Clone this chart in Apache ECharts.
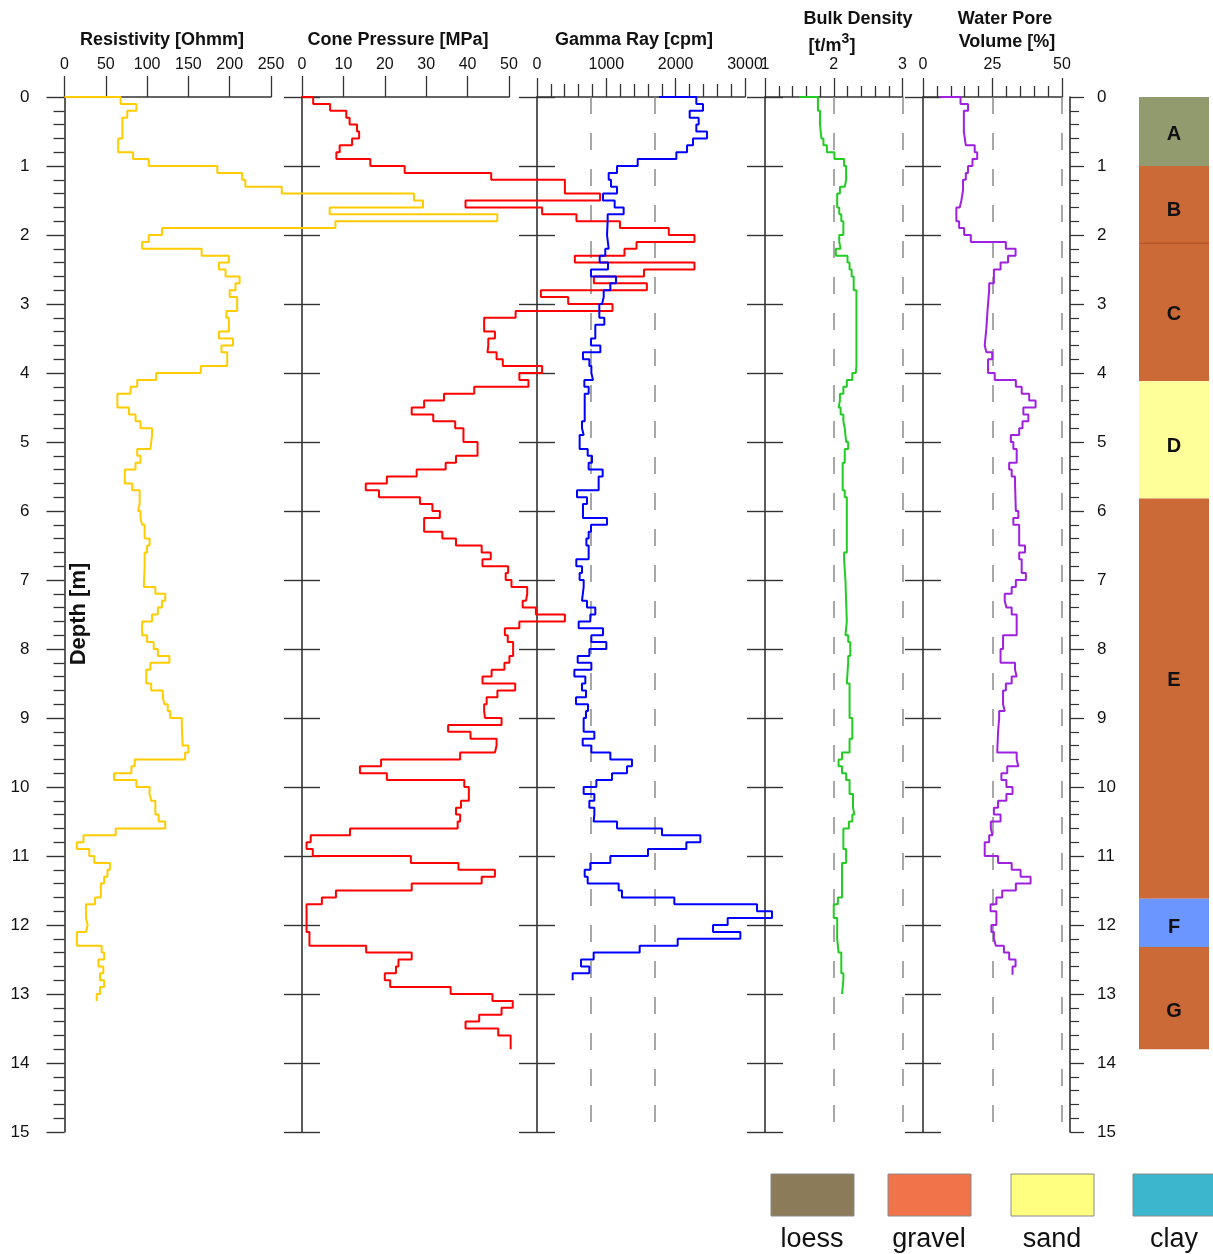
<!DOCTYPE html>
<html><head><meta charset="utf-8">
<script src="https://cdn.jsdelivr.net/npm/echarts/dist/echarts.min.js"></script>
<style>html,body{margin:0;padding:0;background:#fff}#c{width:1213px;height:1254px}</style>
</head><body><div id="c"></div><script>
// ---------- DATA ----------
// each curve: [segment top depth (m), value]; segment ends at next top (last ends at *End)
const resistivity = [[0,0],[0,68],[0.1,87],[0.2,76],[0.3,70],[0.6,65],[0.8,83],[0.9,102],[1.0,185],[1.1,215],[1.2,219],[1.3,263],[1.4,423],[1.5,434],[1.6,321],[1.7,524],[1.8,328],[1.9,118],[2.0,102],[2.1,94],[2.2,166],[2.3,199],[2.4,187],[2.5,195],[2.6,212],[2.7,207],[2.8,200],[2.9,209],[3.1,196],[3.2,199],[3.4,187],[3.5,204],[3.6,190],[3.7,197],[3.9,165],[4.0,111],[4.1,88],[4.2,80],[4.3,64],[4.5,78],[4.6,86],[4.7,92],[4.8,106],[4.9,104],[5.1,88],[5.2,92],[5.3,86],[5.4,73],[5.6,82],[5.7,91],[5.9,89],[6.0,92],[6.1,94],[6.2,97],[6.4,103],[6.5,100],[6.6,97],[6.8,96],[7.1,110],[7.2,122],[7.3,118],[7.4,113],[7.5,106],[7.6,94],[7.8,100],[7.9,108],[8.0,113],[8.1,127],[8.2,104],[8.3,99],[8.5,105],[8.6,119],[8.7,121],[8.8,125],[8.9,128],[9.0,142],[9.1,143],[9.4,150],[9.5,146],[9.6,85],[9.7,81],[9.8,60],[9.9,87],[10.0,103],[10.1,105],[10.2,110],[10.4,114],[10.5,122],[10.6,62],[10.7,23],[10.8,15],[10.9,30],[11.0,36],[11.1,55],[11.2,52],[11.3,48],[11.4,44],[11.6,37],[11.7,26],[11.9,28],[12.0,26],[12.1,15],[12.3,45],[12.4,48],[12.5,41],[12.6,47],[12.7,43],[12.8,48],[12.9,43],[13.0,39]];
const resistivityEnd = 13.1;

const conePressure = [[0,0],[0,2.7],[0.1,6.8],[0.2,10.7],[0.3,11.5],[0.4,13.3],[0.5,13.8],[0.6,12.1],[0.7,9.1],[0.8,8.3],[0.9,16.5],[1.0,24.8],[1.1,45.7],[1.2,63.5],[1.4,72],[1.5,39.5],[1.6,58],[1.7,66.3],[1.8,76.8],[1.9,88.6],[2.0,94.8],[2.1,80.8],[2.2,77.9],[2.3,65.9],[2.4,94.8],[2.5,82.6],[2.6,70.5],[2.7,83.3],[2.8,57.7],[2.9,64.3],[3.0,75],[3.1,51.6],[3.2,44],[3.4,46.6],[3.5,45],[3.6,44.8],[3.7,47],[3.8,48.5],[3.9,58],[4.0,52.5],[4.1,54.7],[4.2,41.6],[4.3,34.3],[4.4,29.5],[4.5,26.5],[4.6,31.7],[4.7,37],[4.8,39],[5.0,42.4],[5.2,37.2],[5.3,34.7],[5.4,27.7],[5.5,20.5],[5.6,15.4],[5.7,18.6],[5.8,28.5],[5.9,31.5],[6.0,33.3],[6.1,29.5],[6.3,33.9],[6.4,37.2],[6.5,43.4],[6.6,45.6],[6.7,43.6],[6.8,49.8],[6.9,49.2],[7.0,50.6],[7.1,54.4],[7.2,54.1],[7.3,53.3],[7.4,56.5],[7.5,63.5],[7.6,52.5],[7.7,49.0],[7.8,49.7],[7.9,51],[8.1,50.1],[8.2,48.9],[8.3,45.8],[8.4,43.6],[8.5,51.5],[8.6,47.2],[8.7,44.6],[8.8,44],[8.9,44.2],[9.0,48.2],[9.1,35.3],[9.2,40.7],[9.3,47],[9.4,46.6],[9.5,38.2],[9.6,19.1],[9.7,14],[9.8,20.5],[9.9,39.2],[10.0,40.3],[10.2,38.4],[10.3,37.2],[10.4,38.2],[10.5,37.6],[10.6,11.6],[10.7,2.1],[10.8,1.1],[10.9,2.6],[11.0,26.3],[11.1,37.8],[11.2,46.6],[11.3,43.4],[11.4,26.5],[11.5,8.2],[11.6,4.8],[11.7,1.1],[12.1,1.8],[12.3,15.5],[12.4,26.5],[12.5,23.3],[12.6,22.7],[12.7,20],[12.8,21.3],[12.9,35.9],[13.0,46],[13.1,50.9],[13.2,48.2],[13.3,42.8],[13.4,39.5],[13.5,47.4],[13.6,50.4]];
const conePressureEnd = 13.8;

const gammaRay = [[0,1760],[0,2298],[0.1,2394],[0.2,2202],[0.3,2332],[0.4,2298],[0.5,2452],[0.6,2250],[0.7,2164],[0.8,2010],[0.9,1452],[1.0,1154],[1.1,1034],[1.2,1067],[1.3,1154],[1.4,952],[1.5,1120],[1.6,1250],[1.7,1019],[1.8,1010],[2.0,1034],[2.2,985],[2.3,904],[2.4,1024],[2.5,779],[2.6,1139],[2.7,1058],[2.8,962],[2.9,938],[3.0,899],[3.2,971],[3.3,841],[3.5,779],[3.6,914],[3.7,663],[3.8,755],[3.9,784],[4.0,808],[4.1,683],[4.2,745],[4.3,688],[4.7,649],[4.8,673],[4.9,615],[5.1,731],[5.2,793],[5.3,745],[5.4,947],[5.5,889],[5.7,577],[5.8,721],[5.9,663],[6.1,1010],[6.2,779],[6.3,745],[6.4,712],[6.5,745],[6.7,567],[6.8,649],[6.9,615],[7.0,673],[7.1,649],[7.3,721],[7.4,841],[7.5,769],[7.6,601],[7.7,952],[7.8,784],[7.9,1000],[8.0,755],[8.1,587],[8.2,784],[8.3,539],[8.4,697],[8.5,649],[8.6,707],[8.7,563],[8.8,736],[8.9,707],[9.0,673],[9.2,827],[9.3,659],[9.4,784],[9.5,1058],[9.6,1370],[9.7,1298],[9.8,1082],[9.9,856],[10.0,673],[10.1,827],[10.2,755],[10.3,827],[10.4,817],[10.5,1154],[10.6,1803],[10.7,2356],[10.8,2154],[10.9,1601],[11.0,1058],[11.1,769],[11.2,688],[11.3,731],[11.4,1178],[11.5,1226],[11.6,1981],[11.7,3173],[11.8,3390],[11.9,2750],[12.0,2539],[12.1,2933],[12.2,2029],[12.3,1481],[12.4,817],[12.5,635],[12.6,755],[12.7,514]];
const gammaRayEnd = 12.8;

const bulkDensity = [[0,1.50],[0,1.77],[0.2,1.80],[0.4,1.82],[0.6,1.85],[0.7,1.90],[0.8,2.01],[0.9,2.15],[1.0,2.18],[1.2,2.16],[1.3,2.09],[1.4,2.05],[1.6,2.08],[1.7,2.11],[1.8,2.14],[2.0,2.08],[2.1,2.10],[2.2,2.03],[2.3,2.20],[2.4,2.23],[2.5,2.26],[2.6,2.29],[2.8,2.33],[3.9,2.32],[4.0,2.27],[4.1,2.19],[4.2,2.14],[4.3,2.09],[4.4,2.07],[4.5,2.10],[4.6,2.14],[4.7,2.16],[4.8,2.18],[5.0,2.21],[5.1,2.16],[5.3,2.13],[5.7,2.16],[5.8,2.19],[6.6,2.15],[6.7,2.17],[7.0,2.19],[7.6,2.17],[7.8,2.21],[7.9,2.24],[8.1,2.21],[8.2,2.19],[8.5,2.23],[9.0,2.27],[9.3,2.23],[9.5,2.12],[9.6,2.07],[9.7,2.12],[9.8,2.18],[9.9,2.23],[10.1,2.28],[10.3,2.30],[10.4,2.27],[10.5,2.22],[10.6,2.14],[10.9,2.18],[11.1,2.12],[11.6,2.06],[11.7,2.00],[11.9,2.05],[12.2,2.07],[12.4,2.11],[12.7,2.14],[12.8,2.12]];
const bulkDensityEnd = 13.0;

const waterPore = [[0,5.8],[0,13.5],[0.1,16.2],[0.2,14.7],[0.5,15.4],[0.7,18.6],[0.8,19.5],[0.9,17.8],[1.0,16.2],[1.1,15.4],[1.2,14.4],[1.35,13.8],[1.5,13.2],[1.6,12.0],[1.8,13.0],[1.9,14.8],[2.0,17.2],[2.1,29.8],[2.2,33.3],[2.3,30.6],[2.4,27.9],[2.5,25.5],[2.7,23.8],[2.8,23.2],[3.1,22.8],[3.35,22.2],[3.6,22.8],[3.7,24.9],[3.8,23.4],[4.0,25.8],[4.1,33.4],[4.2,35.5],[4.3,38.2],[4.4,40.5],[4.5,36.1],[4.6,37.9],[4.7,35.8],[4.8,34.6],[4.9,31.6],[5.0,32.5],[5.1,33.7],[5.3,31.0],[5.4,31.9],[5.5,33.1],[5.6,33.4],[6.0,34.3],[6.1,32.5],[6.2,34.6],[6.5,36.7],[6.6,34.6],[6.7,35.5],[6.9,37.0],[7.0,33.4],[7.1,31.9],[7.2,29.4],[7.3,30.0],[7.4,31.9],[7.5,33.7],[7.8,28.8],[8.0,27.9],[8.2,33.1],[8.3,33.7],[8.4,31.9],[8.5,29.8],[8.6,28.8],[8.8,29.4],[8.9,27.4],[9.0,27.0],[9.2,26.7],[9.5,33.7],[9.6,34.3],[9.7,30.3],[9.8,28.2],[9.9,30.0],[10.0,32.2],[10.1,30.0],[10.2,27.0],[10.3,25.5],[10.4,27.9],[10.5,24.4],[10.6,25.0],[10.7,23.8],[10.8,22.2],[11.0,27.0],[11.1,31.9],[11.2,35.1],[11.3,38.7],[11.4,33.4],[11.5,28.5],[11.6,26.4],[11.7,24.3],[11.8,26.4],[12.0,24.6],[12.1,25.5],[12.2,26.2],[12.3,29.1],[12.4,31.0],[12.5,33.3],[12.6,32.2]];
const waterPoreEnd = 12.72;

// axis scales: [min, max, interval]
const depthAxis = [0, 15, 1];
const resistivityAxis = [0, 250, 50];
const conePressureAxis = [0, 50, 10];
const gammaRayAxis = [0, 3000, 1000];
const bulkDensityAxis = [1, 3, 1];
const waterPoreAxis = [0, 50, 25];

// dashed reference lines
const gammaRayGuides = [780, 1700];
const bulkDensityGuides = [2, 3];
const waterPoreGuides = [25, 50];

// stratigraphic units
const layerName = ['A','B','C','D','E','F','G'];
const layerTop = [0, 1.0, 2.12, 4.12, 5.82, 11.62, 12.32];
const layerBottom = [1.0, 2.12, 4.12, 5.82, 11.62, 12.32, 13.8];
const layerLabelDepth = [0.55, 1.65, 3.15, 5.07, 8.46, 12.04, 13.25];
const layerType = ['loess-olive','gravel','gravel','sand','gravel','clay-blue','gravel'];

const legendName = ['loess','gravel','sand','clay'];

// ---------- STYLE ----------
const FONT = '"Liberation Sans", Arial, Helvetica, sans-serif';
const AX = '#333';
const TOP = 97, H = 1035;
const layerColorMap = {'loess-olive':'#929b6d','gravel':'#cb6937','sand':'#ffff99','clay-blue':'#6b95ff'};
const legendColor = ['#8b7b59','#f0734a','#ffff80','#3bb6cc'];

const tracks = [
  {left:64.5, width:206.5, axis:resistivityAxis, data:resistivity, end:resistivityEnd, color:'#ffcc00', guides:[], tickLen:21, minor:false, minorLen:0},
  {left:302, width:207, axis:conePressureAxis, data:conePressure, end:conePressureEnd, color:'#ff0000', guides:[], tickLen:21, minor:false, minorLen:0},
  {left:537, width:208, axis:gammaRayAxis, data:gammaRay, end:gammaRayEnd, color:'#0000ff', guides:gammaRayGuides, tickLen:19, minor:true, minorLen:13},
  {left:765, width:137.5, axis:bulkDensityAxis, data:bulkDensity, end:bulkDensityEnd, color:'#22cc22', guides:bulkDensityGuides, tickLen:19, minor:true, minorLen:11},
  {left:923, width:139, axis:waterPoreAxis, data:waterPore, end:waterPoreEnd, color:'#a020e0', guides:waterPoreGuides, tickLen:19, minor:true, minorLen:11}
];

function steps(pairs, end) {
  const pts = [];
  for (let i = 0; i < pairs.length; i++) {
    const top = pairs[i][0], v = pairs[i][1];
    const bot = i + 1 < pairs.length ? pairs[i + 1][0] : end;
    pts.push([v, top], [v, bot]);
  }
  return pts;
}

const grid = [], xAxis = [], yAxis = [], series = [];
const lineSt = {color: AX, width: 1.6};

tracks.forEach((t, i) => {
  const g = grid.length;
  grid.push({left: t.left, top: TOP, width: t.width, height: H});
  xAxis.push({
    gridIndex: g, type: 'value', position: 'top', min: t.axis[0], max: t.axis[1], interval: t.axis[2],
    axisLine: {show: true, onZero: false, lineStyle: lineSt},
    axisTick: {show: true, length: t.tickLen, lineStyle: {color: AX, width: 1.3}},
    minorTick: {show: t.minor, splitNumber: 5, length: t.minorLen, lineStyle: {color: AX, width: 1.3}},
    axisLabel: {show: true, margin: 24, fontSize: 16, color: '#111', fontFamily: FONT, formatter: v => String(v)},
    splitLine: {show: false}
  });
  const xVis = xAxis.length - 1;
  const yOut = yAxis.length;
  yAxis.push({
    gridIndex: g, type: 'value', inverse: true, min: depthAxis[0], max: depthAxis[1], interval: depthAxis[2], position: 'left',
    axisLine: {show: true, onZero: false, lineStyle: lineSt},
    axisTick: {show: true, inside: false, length: 18, lineStyle: {color: AX, width: 1.4}},
    minorTick: {show: i === 0, splitNumber: 5, length: 11, lineStyle: {color: AX, width: 1.3}},
    axisLabel: {show: i === 0, margin: 35, fontSize: 17, color: '#111', fontFamily: FONT},
    splitLine: {show: false}
  });
  if (i > 0) {
    yAxis.push({
      gridIndex: g, type: 'value', inverse: true, min: depthAxis[0], max: depthAxis[1], interval: depthAxis[2], position: 'left',
      axisLine: {show: false, onZero: false},
      axisTick: {show: true, inside: true, length: 18, lineStyle: {color: AX, width: 1.4}},
      axisLabel: {show: false}, splitLine: {show: false}
    });
  }
  if (t.guides.length) {
    series.push({
      type: 'line', xAxisIndex: xVis, yAxisIndex: yOut, data: [[t.axis[0], depthAxis[0]]],
      symbol: 'none', lineStyle: {opacity: 0}, silent: true, animation: false,
      markLine: {
        silent: true, symbol: ['none', 'none'], label: {show: false}, animation: false,
        lineStyle: {type: [17, 19], color: '#8a8a8a', width: 1.5},
        data: t.guides.map(v => ({xAxis: v}))
      }
    });
  }
  // wide overlay grid with the same scale so curves may run past the track's right edge
  const gW = grid.length;
  const W = 1213 - t.left;
  grid.push({left: t.left, top: TOP, width: W, height: H});
  xAxis.push({gridIndex: gW, type: 'value', show: false, min: t.axis[0], max: t.axis[0] + (t.axis[1] - t.axis[0]) * W / t.width});
  const yW = yAxis.length;
  yAxis.push({gridIndex: gW, type: 'value', show: false, inverse: true, min: depthAxis[0], max: depthAxis[1]});
  series.push({
    type: 'line', xAxisIndex: xAxis.length - 1, yAxisIndex: yW, data: steps(t.data, t.end),
    symbol: 'none', showSymbol: false, animation: false, silent: true, z: 5,
    lineStyle: {color: t.color, width: 2}
  });
});

// right depth scale
const gR = grid.length;
grid.push({left: 1070, top: TOP, width: 1, height: H});
xAxis.push({gridIndex: gR, type: 'value', show: false, min: 0, max: 1});
yAxis.push({
  gridIndex: gR, type: 'value', inverse: true, min: depthAxis[0], max: depthAxis[1], interval: depthAxis[2], position: 'left',
  axisLine: {show: true, onZero: false, lineStyle: lineSt},
  axisTick: {show: true, inside: true, length: 14, lineStyle: {color: AX, width: 1.3}},
  minorTick: {show: true, splitNumber: 5, length: 9, lineStyle: {color: AX, width: 1.2}},
  axisLabel: {show: true, inside: true, margin: 27, fontSize: 17, color: '#111', fontFamily: FONT},
  splitLine: {show: false}
});

// stratigraphic column
const gS = grid.length;
grid.push({left: 1139, top: TOP, width: 70, height: H});
xAxis.push({gridIndex: gS, type: 'value', show: false, min: 0, max: 1});
const xS = xAxis.length - 1;
const yS = yAxis.length;
yAxis.push({gridIndex: gS, type: 'value', show: false, inverse: true, min: depthAxis[0], max: depthAxis[1]});
series.push({
  type: 'custom', xAxisIndex: xS, yAxisIndex: yS, animation: false, silent: true,
  data: layerName.map((n, i) => [i, layerTop[i], layerBottom[i], layerLabelDepth[i]]),
  renderItem: function (params, api) {
    const i = api.value(0);
    const p0 = api.coord([0, api.value(1)]);
    const p1 = api.coord([1, api.value(2)]);
    const pl = api.coord([0.5, api.value(3)]);
    const col = layerColorMap[layerType[i]];
    const children = [{type: 'rect', shape: {x: p0[0], y: p0[1], width: p1[0] - p0[0], height: p1[1] - p0[1]}, style: {fill: col}}];
    if (i > 0 && layerType[i - 1] === layerType[i]) {
      children.push({type: 'line', shape: {x1: p0[0], y1: p0[1], x2: p1[0], y2: p0[1]}, style: {stroke: '#a84a1e', lineWidth: 1}});
    }
    children.push({type: 'text', style: {text: layerName[i], x: pl[0], y: pl[1], align: 'center', verticalAlign: 'middle', textAlign: 'center', textVerticalAlign: 'middle', font: 'bold 20px ' + FONT, fill: '#111'}});
    return {type: 'group', children: children};
  }
});

// titles and legend
const graphic = [];
function txt(s, x, y, font, align) {
  const a = align || 'center';
  graphic.push({type: 'text', x: x, y: y, silent: true, style: {text: s, font: font, fill: '#111', align: a, verticalAlign: 'middle', textAlign: a, textVerticalAlign: 'middle'}});
}
const TF = 'bold 18px ' + FONT;
const SF = 'bold 14px ' + FONT;
const mctx = document.createElement('canvas').getContext('2d');
function tw(s, f) { mctx.font = f; return mctx.measureText(s).width; }

txt('Resistivity [Ohmm]', 162, 40, TF);
txt('Cone Pressure [MPa]', 398, 40, TF);
txt('Gamma Ray [cpm]', 634, 40, TF);
txt('Bulk Density', 858, 19, TF);
// "[t/m3]" with superscript 3
const u1 = '[t/m', u2 = '3', u3 = ']';
const uw = tw(u1, TF) + tw(u2, SF) + tw(u3, TF);
let ux = 832 - uw / 2;
txt(u1, ux, 46, TF, 'left'); ux += tw(u1, TF);
txt(u2, ux, 39, SF, 'left'); ux += tw(u2, SF);
txt(u3, ux, 46, TF, 'left');
txt('Water Pore', 1005, 19, TF);
txt('Volume [%]', 1007, 42, TF);
graphic.push({type: 'text', x: 79, y: 614, rotation: Math.PI / 2, silent: true,
  style: {text: 'Depth [m]', font: 'bold 22px ' + FONT, fill: '#111', align: 'center', verticalAlign: 'middle', textAlign: 'center', textVerticalAlign: 'middle'}});

const legX = [771, 888, 1011, 1133];
legendName.forEach((n, i) => {
  graphic.push({type: 'rect', silent: true, shape: {x: legX[i], y: 1174, width: 83, height: 42}, style: {fill: legendColor[i], stroke: '#8a8a8a', lineWidth: 1}});
  txt(n, legX[i] + 41, 1240, '27px ' + FONT);
});

const chart = echarts.init(document.getElementById('c'), null, {renderer: 'canvas', width: 1213, height: 1254});
chart.setOption({
  backgroundColor: '#ffffff',
  animation: false,
  grid: grid, xAxis: xAxis, yAxis: yAxis, series: series, graphic: graphic
});
</script></body></html>
